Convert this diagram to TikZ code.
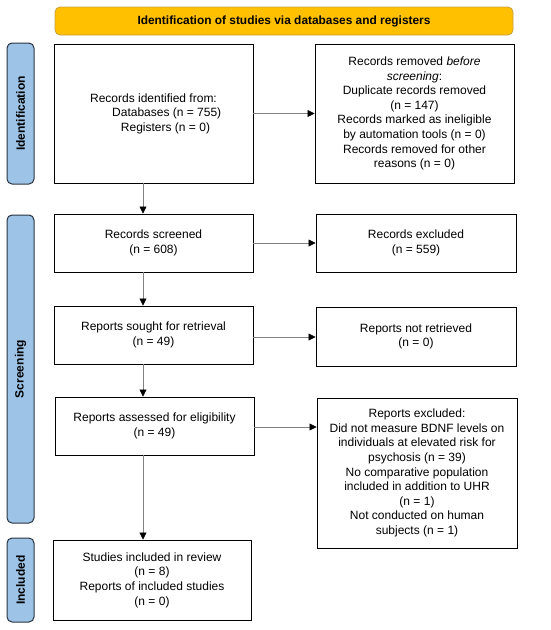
\documentclass[tikz,border=0pt]{standalone}
\usepackage{fontspec}
\setmainfont{Liberation Sans}
\usetikzlibrary{arrows.meta}
\definecolor{banner}{HTML}{FFC000}
\definecolor{bannerb}{HTML}{C8A040}
\definecolor{tabfill}{HTML}{9DC3E6}
\definecolor{tabb}{HTML}{2A3440}
\definecolor{conn}{HTML}{808080}
\tikzset{
  box/.style={draw=black, line width=0.9pt, fill=white, align=center, inner sep=2pt,
    font=\fontsize{12}{14.6}\selectfont},
  tab/.style={draw=tabb, fill=tabfill, line width=1pt, rounded corners=5pt},
  tablabel/.style={rotate=90, font=\fontsize{12}{13}\selectfont\bfseries},
  conn/.style={draw=conn, line width=0.7pt, -{Triangle[length=7pt,width=7pt,fill=black,color=black]}}
}
\begin{document}
\begin{tikzpicture}[x=1pt,y=-1pt]
\useasboundingbox (0,0) rectangle (550,630);
% banner
\draw[draw=bannerb, fill=banner, line width=0.8pt, rounded corners=5pt] (55,7) rectangle (513,35);
\node[font=\fontsize{11.9}{13}\selectfont\bfseries] (title) at (284,21) {Identification of studies via databases and registers};
% tabs
\draw[tab] (7,43) rectangle (34,184);
\node[tablabel] (tid) at (20.5,113.5) {Identification};
\draw[tab] (7,215) rectangle (34,523);
\node[tablabel] (tsc) at (20.5,369) {Screening};
\draw[tab] (7,538) rectangle (34,622);
\node[tablabel] (tin) at (20.5,580) {Included};
% boxes
\node[box, minimum width=199pt, minimum height=139pt] (ident) at (153.5,113.5)
  {Records identified from:\\\hspace*{2.2em}Databases (n = 755)\\\hspace*{2em}Registers (n = 0)};
\node[box, minimum width=199pt, minimum height=139pt] (removed) at (414.5,113.5)
  {Records removed \textit{before}\\\textit{screening}:\\Duplicate records removed\\(n = 147)\\Records marked as ineligible\\by automation tools (n = 0)\\Records removed for other\\reasons (n = 0)};
\node[box, minimum width=199pt, minimum height=58pt] (screened) at (153.5,243)
  {Records screened\\(n = 608)};
\node[box, minimum width=200pt, minimum height=58pt] (excluded) at (416,243)
  {Records excluded\\(n = 559)};
\node[box, minimum width=199pt, minimum height=58pt] (sought) at (153.5,335)
  {Reports sought for retrieval\\(n = 49)};
\node[box, minimum width=200pt, minimum height=59pt] (notret) at (416,336.5)
  {Reports not retrieved\\(n = 0)};
\node[box, minimum width=199pt, minimum height=58pt] (assessed) at (154.5,426)
  {Reports assessed for eligibility\\(n = 49)};
\node[box, minimum width=200pt, minimum height=150pt] (repexcl) at (417,473)
  {Reports excluded:\\Did not measure BDNF levels on\\individuals at elevated risk for\\psychosis (n = 39)\\No comparative population\\included in addition to UHR\\(n = 1)\\Not conducted on human\\subjects (n = 1)};
\node[box, minimum width=198pt, minimum height=80pt] (included) at (152,580)
  {Studies included in review\\(n = 8)\\Reports of included studies\\(n = 0)};
% connectors
\draw[conn] (ident.east) -- (removed.west);
\draw[conn] (ident.south -| 143,0) -- (screened.north -| 143,0);
\draw[conn] (screened.east) -- (excluded.west);
\draw[conn] (screened.south -| 143,0) -- (sought.north -| 143,0);
\draw[conn] (sought.east |- 0,337) -- (notret.west |- 0,337);
\draw[conn] (sought.south -| 143,0) -- (assessed.north -| 143,0);
\draw[conn] (assessed.east |- 0,427) -- (repexcl.west |- 0,427);
\draw[conn] (assessed.south -| 143,0) -- (included.north -| 143,0);
\end{tikzpicture}
\end{document}
